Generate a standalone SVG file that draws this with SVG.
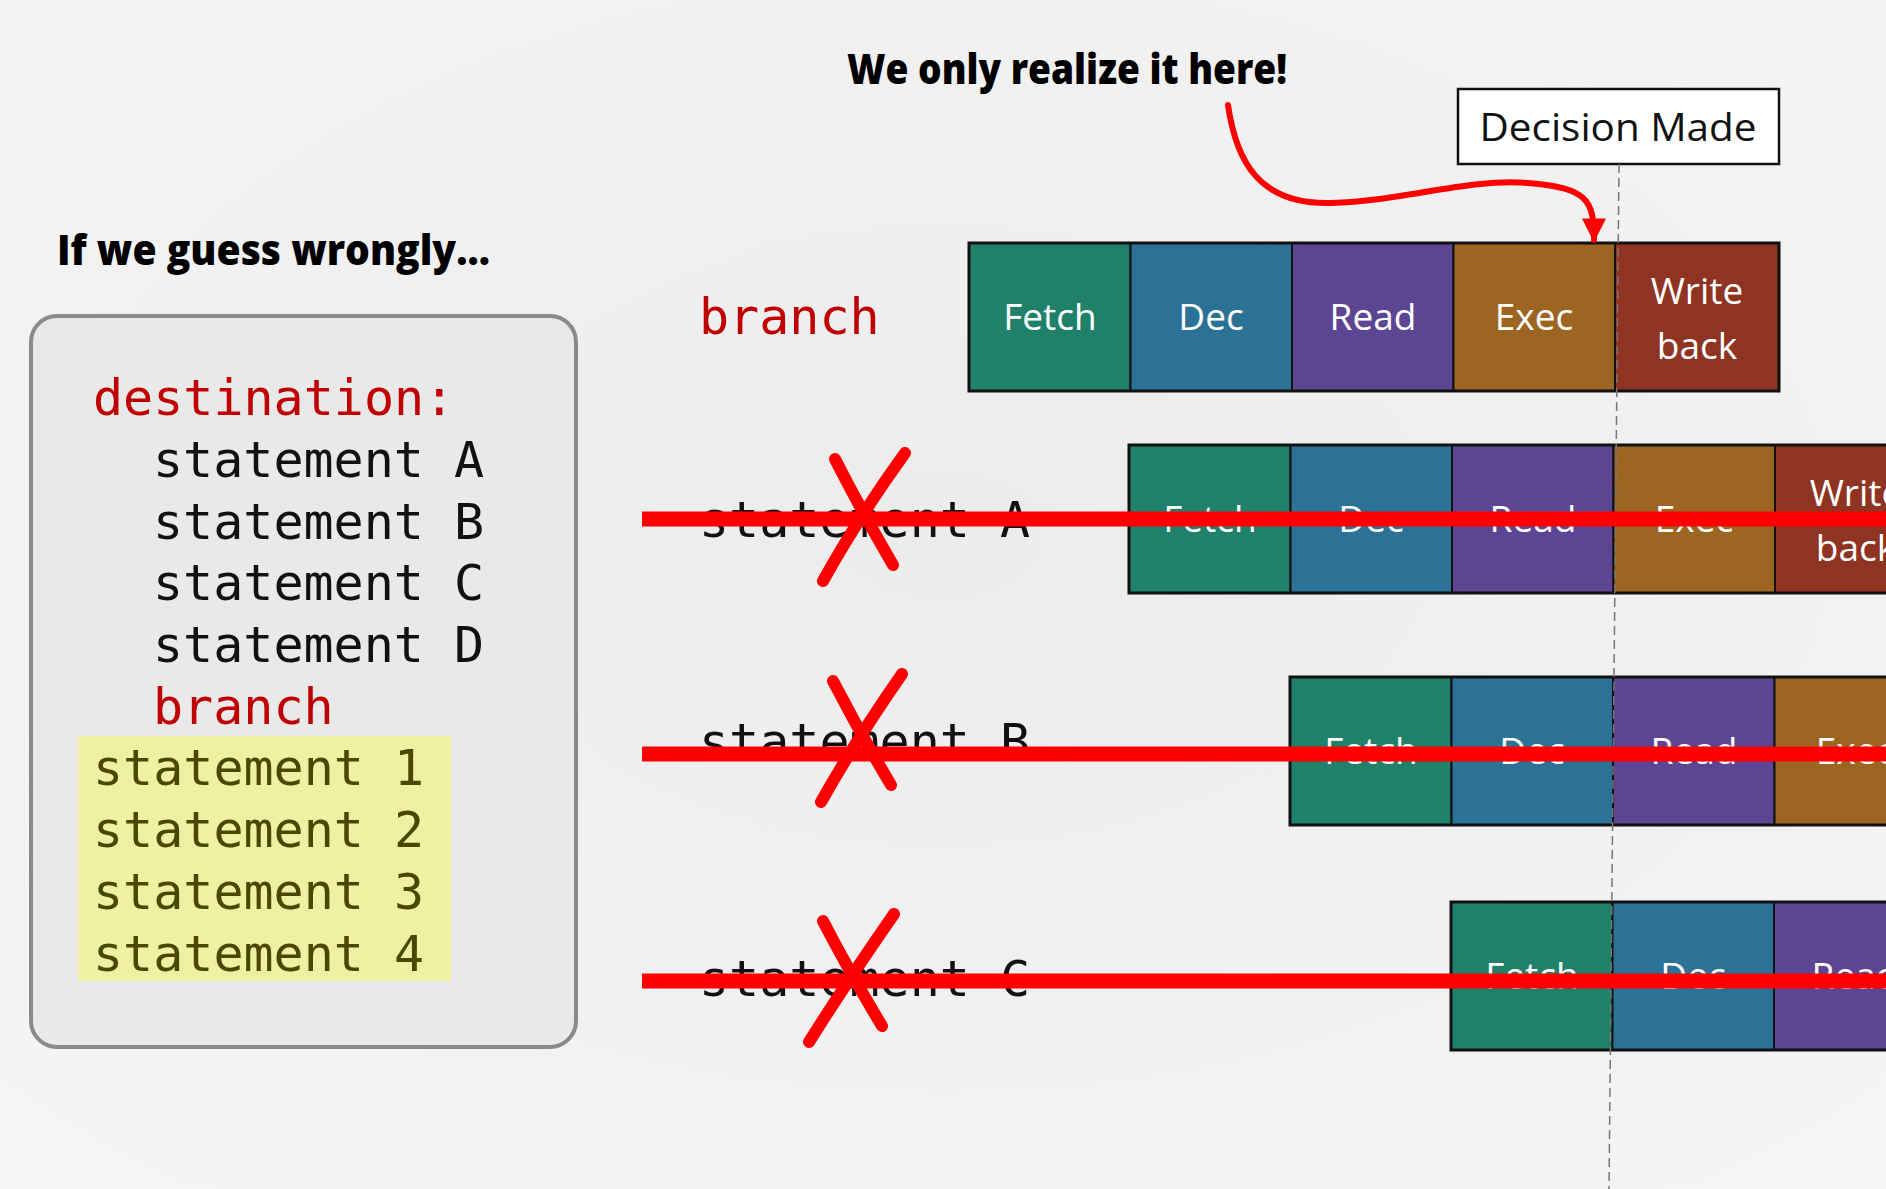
<svg xmlns="http://www.w3.org/2000/svg" width="1886" height="1189" viewBox="0 0 1886 1189">
<defs>
<style>
.mono{font-family:"DejaVu Sans Mono","Liberation Mono",monospace;font-size:50px}
.code{fill:#111}
.red{fill:#c00000}
.olive{fill:#4a4800}
.cell{stroke:#111;stroke-width:2}
.ct{font-family:"Open Sans","Liberation Sans",sans-serif;font-size:37px;fill:#fff;text-anchor:middle}
.f{fill:#20816a}.d{fill:#2c7196}.r{fill:#5c4592}.e{fill:#9c6522}.w{fill:#8f3322}
.strike{stroke:#ff0000;stroke-width:15}
.x{stroke:#ff0000;stroke-width:12;fill:none;stroke-linecap:round}
.head{font-family:"Open Sans","Liberation Sans",sans-serif;font-weight:800;fill:#000}
</style>
<marker id="ah" viewBox="0 0 10 10" refX="9" refY="5" markerWidth="4" markerHeight="4" orient="auto" markerUnits="strokeWidth">
<path d="M0,0 L10,5 L0,10 Z" fill="#ff0000"/>
</marker>
<radialGradient id="bg" cx="50%" cy="45%" r="75%">
<stop offset="0" stop-color="#ececec"/>
<stop offset="1" stop-color="#f5f5f5"/>
</radialGradient>
</defs>
<rect width="1886" height="1189" fill="url(#bg)"/>

<g id="title-left">
<text class="head" x="57" y="265" font-size="42" textLength="433" lengthAdjust="spacingAndGlyphs">If we guess wrongly...</text>
</g>

<g id="code-box">
<rect x="31" y="316" width="545" height="731" rx="26" fill="#e9e9e9" stroke="#8a8a8a" stroke-width="4"/>
<rect x="78" y="736" width="373" height="245" fill="#f0f0a2"/>
<text class="mono red" x="93" y="415">destination:</text>
<text class="mono code" x="153" y="477">statement A</text>
<text class="mono code" x="153" y="539">statement B</text>
<text class="mono code" x="153" y="600">statement C</text>
<text class="mono code" x="153" y="662">statement D</text>
<text class="mono red" x="153" y="724">branch</text>
<text class="mono olive" x="93" y="785">statement 1</text>
<text class="mono olive" x="93" y="847">statement 2</text>
<text class="mono olive" x="93" y="909">statement 3</text>
<text class="mono olive" x="93" y="971">statement 4</text>
</g>

<g id="callout">
<text class="head" x="847" y="84" font-size="42" textLength="440" lengthAdjust="spacingAndGlyphs">We only realize it here!</text>
</g>

<g id="decision-made">
<rect x="1458" y="89" width="321" height="75" fill="#fff" stroke="#111" stroke-width="2.5"/>
<text x="1618" y="141" font-family="'Open Sans','Liberation Sans',sans-serif" font-size="38" fill="#111" text-anchor="middle" textLength="277" lengthAdjust="spacingAndGlyphs">Decision Made</text>
</g>

<g id="row-branch">
<text class="mono red" x="699" y="334">branch</text>
<rect class="cell f" x="969" y="243" width="161.5" height="148"/>
<rect class="cell d" x="1130.5" y="243" width="161.5" height="148"/>
<rect class="cell r" x="1292" y="243" width="161.5" height="148"/>
<rect class="cell e" x="1453.5" y="243" width="161.5" height="148"/>
<rect class="cell w" x="1615" y="243" width="164" height="148"/>
<rect x="969" y="243" width="810" height="148" fill="none" stroke="#111" stroke-width="3"/>
<text class="ct" x="1050" y="330">Fetch</text>
<text class="ct" x="1211" y="330">Dec</text>
<text class="ct" x="1373" y="330">Read</text>
<text class="ct" x="1534" y="330">Exec</text>
<text class="ct" x="1697" y="304">Write</text>
<text class="ct" x="1697" y="359">back</text>
</g>

<g id="row-a">
<text class="mono code" x="699" y="537">statement A</text>
<rect class="cell f" x="1129" y="445" width="161.5" height="148"/>
<rect class="cell d" x="1290.5" y="445" width="161.5" height="148"/>
<rect class="cell r" x="1452" y="445" width="161.5" height="148"/>
<rect class="cell e" x="1613.5" y="445" width="161.5" height="148"/>
<rect class="cell w" x="1775" y="445" width="161.5" height="148"/>
<rect x="1129" y="445" width="810" height="148" fill="none" stroke="#111" stroke-width="3"/>
<text class="ct" x="1210" y="532">Fetch</text>
<text class="ct" x="1371" y="532">Dec</text>
<text class="ct" x="1533" y="532">Read</text>
<text class="ct" x="1694" y="532">Exec</text>
<text class="ct" x="1856" y="506">Write</text>
<text class="ct" x="1856" y="561">back</text>
</g>

<g id="row-b">
<text class="mono code" x="699" y="759">statement B</text>
<rect class="cell f" x="1290" y="677" width="161.5" height="148"/>
<rect class="cell d" x="1451.5" y="677" width="161.5" height="148"/>
<rect class="cell r" x="1613" y="677" width="161.5" height="148"/>
<rect class="cell e" x="1774.5" y="677" width="161.5" height="148"/>
<rect x="1290" y="677" width="650" height="148" fill="none" stroke="#111" stroke-width="3"/>
<text class="ct" x="1371" y="764">Fetch</text>
<text class="ct" x="1532" y="764">Dec</text>
<text class="ct" x="1694" y="764">Read</text>
<text class="ct" x="1855" y="764">Exec</text>
</g>

<g id="row-c">
<text class="mono code" x="699" y="996">statement C</text>
<rect class="cell f" x="1451" y="902" width="161.5" height="148"/>
<rect class="cell d" x="1612.5" y="902" width="161.5" height="148"/>
<rect class="cell r" x="1774" y="902" width="161.5" height="148"/>
<rect x="1451" y="902" width="490" height="148" fill="none" stroke="#111" stroke-width="3"/>
<text class="ct" x="1532" y="989">Fetch</text>
<text class="ct" x="1693" y="989">Dec</text>
<text class="ct" x="1855" y="989">Read</text>
</g>

<g id="connectors">
<line x1="1619" y1="164" x2="1609" y2="1189" stroke="#777" stroke-width="1.5" stroke-dasharray="9,5"/>
<path d="M1228,105 C1236,160 1258,205 1331,203 S1468,178 1528,183 S1594,200 1594,240" fill="none" stroke="#ff0000" stroke-width="6" stroke-linecap="round" marker-end="url(#ah)"/>
<line class="strike" x1="642" y1="519" x2="1886" y2="519"/>
<line class="strike" x1="642" y1="754" x2="1886" y2="754"/>
<line class="strike" x1="642" y1="981" x2="1886" y2="981"/>
<path class="x" d="M835,459 Q862,512 893,565"/>
<path class="x" d="M905,453 Q858,518 823,581"/>
<path class="x" d="M833,681 Q860,733 891,785"/>
<path class="x" d="M902,674 Q856,740 821,802"/>
<path class="x" d="M823,921 Q850,973 882,1026"/>
<path class="x" d="M894,914 Q848,980 809,1042"/>
</g>
</svg>
